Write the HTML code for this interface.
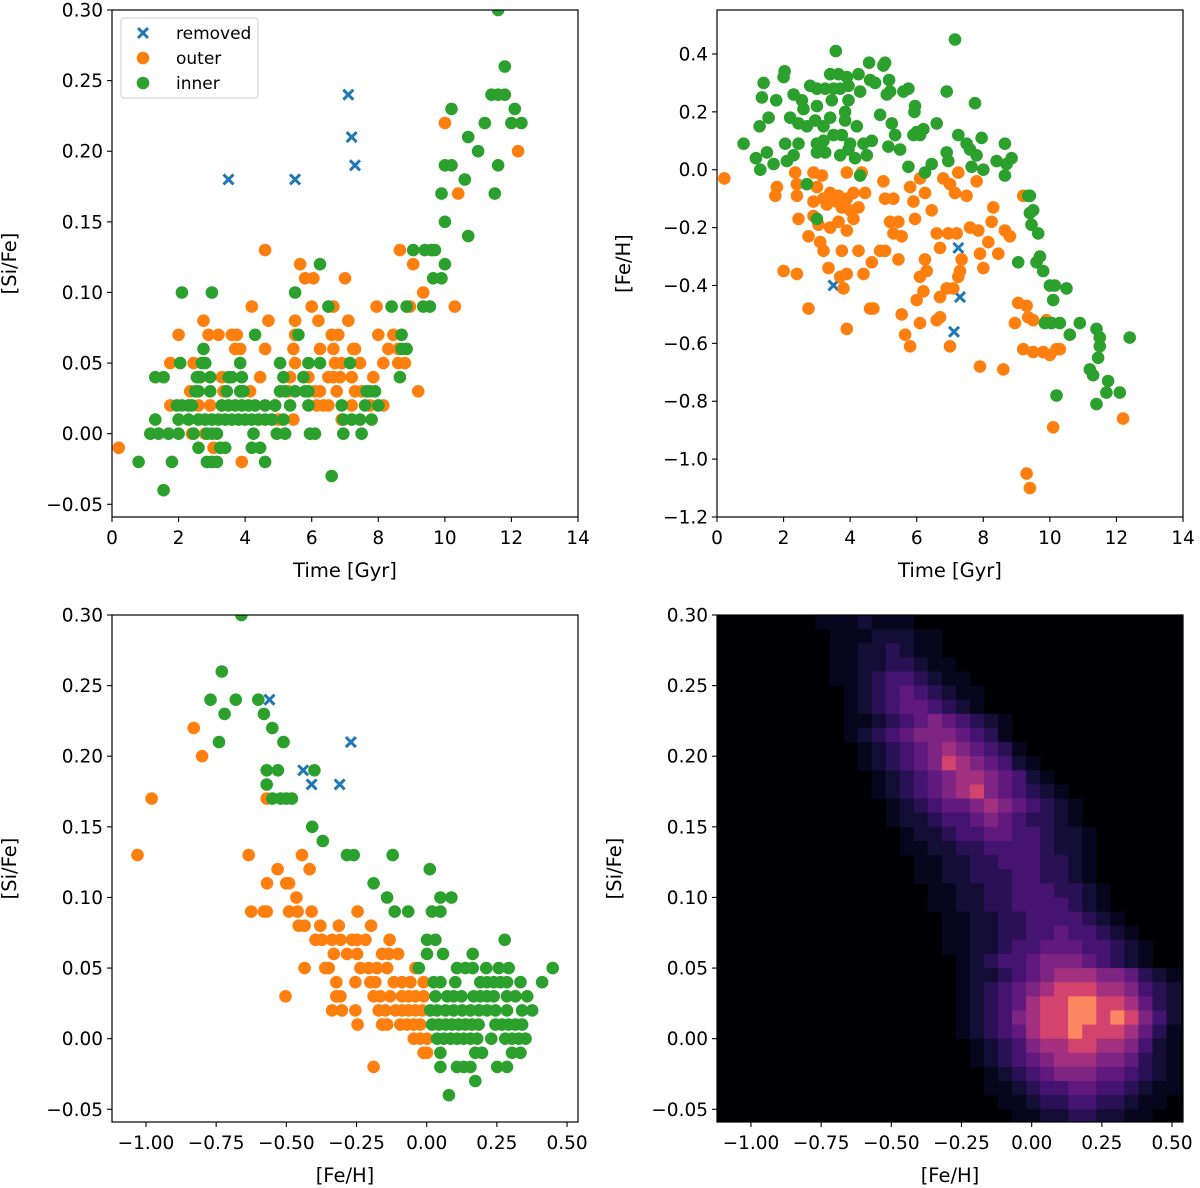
<!DOCTYPE html>
<html><head><meta charset="utf-8"><style>
html,body{margin:0;padding:0;background:#fff;}
svg{display:block;font-family:"DejaVu Sans","Liberation Sans",sans-serif;}
</style></head><body>
<svg id="fig" width="1200" height="1188" viewBox="0 0 1200 1188" xmlns="http://www.w3.org/2000/svg"></svg>
<script>
// ---------- Panel 1: Time vs [Si/Fe] ----------
const p1Removed = [[3.5,0.18],[5.5,0.18],[7.1,0.24],[7.2,0.21],[7.3,0.19]];
const p1Outer = [[4.6,0.13],[8.65,0.13],[5.65,0.12],[9.05,0.12],[5.8,0.11],[6.05,0.11],[7.0,0.11],[9.35,0.10],
[4.2,0.09],[6.0,0.09],[6.65,0.09],[7.95,0.09],[8.95,0.09],[2.75,0.08],[4.7,0.08],[5.5,0.08],[6.2,0.08],[7.1,0.08],
[2.0,0.07],[2.9,0.07],[3.2,0.07],[3.6,0.07],[3.75,0.07],[5.5,0.07],[6.6,0.07],[6.8,0.07],[8.0,0.07],[8.45,0.07],
[3.7,0.06],[3.85,0.06],[4.6,0.06],[5.45,0.06],[6.25,0.06],[6.65,0.06],[7.25,0.06],[7.3,0.06],[8.3,0.06],[8.6,0.06],
[1.75,0.05],[2.45,0.05],[5.5,0.05],[6.7,0.05],[6.9,0.05],[7.45,0.05],[8.15,0.05],[8.6,0.05],[8.8,0.05],
[3.3,0.04],[4.45,0.04],[5.35,0.04],[5.9,0.04],[6.5,0.04],[6.65,0.04],[6.85,0.04],[7.2,0.04],[7.85,0.04],
[2.35,0.03],[3.35,0.03],[4.15,0.03],[5.3,0.03],[6.1,0.03],[6.25,0.03],[6.75,0.03],[7.3,0.03],[7.5,0.03],[9.2,0.03],
[1.75,0.02],[2.6,0.02],[2.95,0.02],[4.9,0.02],[6.15,0.02],[6.35,0.02],[6.5,0.02],[7.2,0.02],[7.75,0.02],[8.15,0.02],
[5.0,0.01],[5.45,0.01],[6.9,0.01],[2.4,0.00],[2.8,0.00],[0.2,-0.01],[3.05,-0.01],[3.9,-0.02],
[10.0,0.22],[12.2,0.20],[10.4,0.17],[10.3,0.09]];
const p1Inner = [[9.05,0.13],[9.4,0.13],[9.7,0.13],[6.25,0.12],[9.65,0.11],[2.1,0.10],[3.0,0.10],[5.5,0.10],
[6.5,0.09],[8.4,0.09],[8.85,0.09],[9.35,0.09],[9.55,0.09],[4.3,0.07],[5.6,0.07],[8.7,0.07],[2.75,0.06],[8.7,0.06],[8.85,0.06],
[2.05,0.05],[2.7,0.05],[2.8,0.05],[3.85,0.05],[5.05,0.05],[5.9,0.05],[6.25,0.05],[7.15,0.05],
[1.3,0.04],[1.55,0.04],[2.55,0.04],[2.65,0.04],[2.95,0.04],[3.5,0.04],[3.6,0.04],[3.9,0.04],[5.15,0.04],[5.75,0.04],[8.65,0.04],
[2.5,0.03],[2.6,0.03],[2.95,0.03],[3.45,0.03],[3.85,0.03],[3.95,0.03],[5.05,0.03],[5.2,0.03],[5.5,0.03],[5.8,0.03],[5.9,0.03],[7.65,0.03],[7.75,0.03],[7.9,0.03],
[1.95,0.02],[2.1,0.02],[2.3,0.02],[2.4,0.02],[3.3,0.02],[3.5,0.02],[3.7,0.02],[3.9,0.02],[4.1,0.02],[4.3,0.02],[4.6,0.02],[4.9,0.02],[5.35,0.02],[5.9,0.02],[6.9,0.02],[7.6,0.02],[8.0,0.02],
[1.3,0.01],[2.0,0.01],[2.3,0.01],[2.6,0.01],[2.8,0.01],[3.0,0.01],[3.2,0.01],[3.4,0.01],[3.6,0.01],[3.8,0.01],[4.0,0.01],[4.2,0.01],[4.4,0.01],[4.6,0.01],[4.8,0.01],[5.15,0.01],[6.95,0.01],[7.2,0.01],[7.45,0.01],[7.8,0.01],
[1.15,0.00],[1.4,0.00],[1.7,0.00],[2.0,0.00],[2.45,0.00],[2.85,0.00],[3.0,0.00],[3.15,0.00],[4.25,0.00],[4.95,0.00],[5.2,0.00],[5.95,0.00],[6.1,0.00],[6.95,0.00],[7.5,0.00],
[2.6,-0.01],[3.25,-0.01],[3.4,-0.01],[4.2,-0.01],[4.45,-0.01],[0.8,-0.02],[1.8,-0.02],[2.85,-0.02],[3.0,-0.02],[3.15,-0.02],[4.6,-0.02],[6.6,-0.03],[1.55,-0.04],
[11.6,0.30],[11.8,0.26],[11.4,0.24],[11.6,0.24],[11.8,0.24],[12.1,0.23],[10.2,0.23],[11.2,0.22],[12.3,0.22],[12.0,0.22],[10.7,0.21],[11.0,0.20],
[10.2,0.19],[10.0,0.19],[11.6,0.19],[10.6,0.18],[9.9,0.17],[11.5,0.17],[10.0,0.15],[10.7,0.14],[9.6,0.13],[9.9,0.11],[10.0,0.12]];

// ---------- Panel 2: Time vs [Fe/H] ----------
const p2Removed = [[7.25,-0.27],[7.3,-0.44],[7.12,-0.56],[3.5,-0.40]];
const p2Outer = [[0.22,-0.03],[2.35,-0.01],[2.9,-0.01],[3.15,-0.02],[3.9,-0.01],[4.35,-0.01],[1.8,-0.06],[1.75,-0.09],[2.4,-0.05],[2.4,-0.09],[3.0,-0.06],[3.4,-0.08],[3.65,-0.09],[3.9,-0.10],[4.1,-0.08],[4.45,-0.08],[5.0,-0.04],[5.05,-0.10],[5.3,-0.10],[5.8,-0.06],[6.1,-0.03],[6.25,-0.08],[6.8,-0.03],[7.0,-0.05],[7.25,-0.01],[7.15,-0.08],[7.5,-0.09],[7.8,-0.04],[2.45,-0.17],[2.9,-0.11],[2.9,-0.16],[3.2,-0.10],[3.3,-0.12],[3.6,-0.11],[3.75,-0.13],[4.0,-0.14],[4.25,-0.13],[5.9,-0.11],[6.45,-0.14],[8.3,-0.13],[9.2,-0.09],[3.05,-0.19],[3.4,-0.20],[3.65,-0.18],[3.9,-0.21],[4.1,-0.17],[5.2,-0.18],[5.45,-0.18],[5.3,-0.22],[5.55,-0.23],[5.95,-0.17],[7.6,-0.20],[7.85,-0.21],[8.25,-0.18],[6.6,-0.22],[6.95,-0.22],[7.2,-0.22],[8.65,-0.21],[8.8,-0.23],[2.75,-0.23],[3.1,-0.25],[3.2,-0.28],[3.75,-0.28],[4.25,-0.28],[4.65,-0.32],[4.9,-0.28],[5.05,-0.28],[5.45,-0.31],[6.7,-0.27],[7.35,-0.31],[7.9,-0.29],[8.15,-0.25],[8.45,-0.29],[2.0,-0.35],[2.4,-0.36],[3.35,-0.34],[3.7,-0.37],[3.9,-0.36],[4.4,-0.36],[6.25,-0.31],[6.3,-0.35],[6.1,-0.37],[7.3,-0.35],[7.25,-0.37],[8.0,-0.34],[3.8,-0.41],[6.2,-0.42],[6.9,-0.41],[7.1,-0.41],[6.7,-0.44],[6.0,-0.45],[2.75,-0.48],[4.6,-0.48],[4.7,-0.48],[5.55,-0.50],[9.05,-0.46],[8.95,-0.53],[9.35,-0.51],[3.9,-0.55],[6.1,-0.53],[6.6,-0.52],[6.7,-0.51],[5.65,-0.57],[5.8,-0.61],[7.0,-0.61],[9.5,-0.63],
[9.3,-0.47],[9.5,-0.52],[9.9,-0.52],[9.8,-0.63],[10.0,-0.64],[9.2,-0.62],[10.2,-0.62],[10.3,-0.62],[10.1,-0.89],[9.3,-1.05],[9.4,-1.10],[12.2,-0.86],[7.9,-0.68],[8.6,-0.69]];
const p2Inner = [[7.15,0.45],[3.57,0.41],[4.57,0.37],[5.0,0.36],[5.05,0.37],[2.03,0.34],[2.0,0.32],[1.4,0.30],[3.4,0.33],[3.65,0.33],[3.9,0.32],[4.25,0.33],[4.6,0.31],[4.75,0.30],[5.17,0.31],[1.35,0.25],[1.78,0.24],[2.3,0.26],[2.55,0.24],[2.8,0.29],[3.0,0.28],[3.25,0.28],[3.5,0.28],[3.7,0.28],[3.95,0.29],[4.3,0.27],[5.1,0.26],[5.2,0.27],[5.6,0.27],[5.75,0.28],[6.9,0.27],[7.75,0.23],[2.6,0.21],[3.0,0.22],[3.45,0.24],[3.95,0.24],[3.85,0.20],[4.9,0.19],[5.95,0.22],[5.93,0.20],[1.55,0.18],[2.2,0.18],[1.28,0.15],[2.45,0.16],[2.7,0.15],[2.95,0.17],[3.2,0.15],[3.4,0.18],[3.85,0.17],[4.2,0.15],[5.25,0.16],[5.35,0.12],[6.0,0.13],[6.2,0.14],[6.6,0.16],[0.8,0.09],[1.5,0.06],[2.05,0.09],[2.45,0.09],[3.0,0.09],[3.2,0.10],[3.5,0.12],[3.75,0.12],[4.0,0.09],[4.4,0.09],[4.65,0.10],[5.15,0.08],[5.5,0.07],[5.9,0.12],[6.1,0.12],[7.25,0.12],[7.5,0.09],[7.6,0.07],[7.95,0.11],[8.65,0.09],[1.17,0.04],[1.7,0.02],[2.1,0.03],[2.3,0.05],[3.0,0.06],[3.25,0.06],[3.7,0.05],[3.95,0.07],[4.15,0.04],[4.5,0.05],[6.9,0.06],[6.95,0.03],[7.8,0.05],[8.4,0.03],[8.85,0.04],[1.3,0.00],[5.75,0.01],[6.45,0.02],[7.65,0.01],[8.0,0.00],[8.7,0.02],[8.65,-0.02],[6.25,-0.01],[4.3,-0.02],[2.7,-0.05],[3.0,-0.17],[9.35,-0.09],[9.4,-0.15],[9.5,-0.14],[9.65,-0.22],[9.7,-0.30],[9.05,-0.32],[10.15,-0.40],[10.1,-0.45],[9.85,-0.53],[10.05,-0.53],
[9.4,-0.09],[9.45,-0.19],[9.6,-0.32],[9.8,-0.35],[10.0,-0.40],[10.5,-0.41],[10.3,-0.53],[10.6,-0.57],[10.9,-0.53],[11.4,-0.55],[11.5,-0.58],[11.5,-0.61],[11.45,-0.65],[12.4,-0.58],[11.2,-0.69],[11.3,-0.71],[11.75,-0.73],[11.7,-0.77],[12.1,-0.77],[11.4,-0.81],[10.2,-0.78]];

// ---------- Panel 3: [Fe/H] vs [Si/Fe] ----------
const p3Removed = [[-0.56,0.24],[-0.27,0.21],[-0.44,0.19],[-0.41,0.18],[-0.31,0.18]];
const p3Outer = [[-0.83,0.22],[-0.80,0.20],[-0.98,0.17],[-0.57,0.17],[-1.03,0.13],[-0.634,0.13],[-0.444,0.13],[-0.531,0.12],[-0.417,0.12],[-0.569,0.11],[-0.50,0.11],[-0.49,0.11],[-0.464,0.10],
[-0.625,0.09],[-0.58,0.09],[-0.57,0.09],[-0.49,0.09],[-0.46,0.09],[-0.41,0.09],[-0.246,0.09],[-0.456,0.08],[-0.435,0.08],[-0.379,0.08],[-0.313,0.08],[-0.198,0.08],
[-0.396,0.07],[-0.373,0.07],[-0.337,0.07],[-0.307,0.07],[-0.266,0.07],[-0.248,0.07],[-0.218,0.07],[-0.132,0.07],[-0.331,0.06],[-0.284,0.06],[-0.248,0.06],[-0.159,0.06],[-0.135,0.06],[-0.102,0.06],
[-0.435,0.05],[-0.361,0.05],[-0.349,0.05],[-0.236,0.05],[-0.207,0.05],[-0.177,0.05],[-0.141,0.05],[-0.04,0.05],[-0.322,0.04],[-0.254,0.04],[-0.201,0.04],[-0.183,0.04],[-0.117,0.04],[-0.088,0.04],[-0.058,0.04],[-0.011,0.04],
[-0.503,0.03],[-0.322,0.03],[-0.307,0.03],[-0.189,0.03],[-0.165,0.03],[-0.13,0.03],[-0.088,0.03],[-0.064,0.03],[-0.04,0.03],[-0.011,0.03],
[-0.337,0.02],[-0.302,0.02],[-0.254,0.02],[-0.171,0.02],[-0.147,0.02],[-0.111,0.02],[-0.088,0.02],[-0.064,0.02],[-0.04,0.02],[-0.016,0.02],
[-0.246,0.01],[-0.159,0.01],[-0.141,0.01],[-0.094,0.01],[-0.07,0.01],[-0.046,0.01],[-0.023,0.01],[-0.046,0.00],[-0.023,0.00],[0.001,0.00],[-0.011,-0.01],[0.001,-0.01],[-0.189,-0.02]];
const p3Inner = [[-0.66,0.30],[-0.73,0.26],[-0.77,0.24],[-0.68,0.24],[-0.72,0.23],[-0.74,0.21],[-0.60,0.24],[-0.58,0.23],[-0.55,0.22],[-0.51,0.21],[-0.57,0.19],[-0.53,0.19],[-0.57,0.18],[-0.55,0.17],[-0.52,0.17],[-0.40,0.19],[-0.50,0.17],[-0.48,0.17],
[-0.408,0.15],[-0.37,0.14],[-0.284,0.13],[-0.26,0.13],[-0.121,0.13],[0.011,0.12],[-0.189,0.11],[-0.141,0.10],[0.049,0.10],[0.088,0.10],[-0.114,0.09],[-0.066,0.09],[0.019,0.09],[0.049,0.09],
[0.001,0.07],[0.031,0.07],[0.278,0.07],[0.001,0.06],[0.058,0.06],[0.164,0.06],[-0.028,0.05],[0.108,0.05],[0.138,0.05],[0.164,0.05],[0.212,0.05],[0.257,0.05],[0.292,0.05],[0.449,0.05],
[0.025,0.04],[0.049,0.04],[0.102,0.04],[0.191,0.04],[0.215,0.04],[0.239,0.04],[0.263,0.04],[0.286,0.04],[0.334,0.04],[0.411,0.04],
[0.031,0.03],[0.073,0.03],[0.096,0.03],[0.124,0.03],[0.167,0.03],[0.191,0.03],[0.215,0.03],[0.239,0.03],[0.286,0.03],[0.316,0.03],[0.358,0.03],
[0.013,0.02],[0.037,0.02],[0.067,0.02],[0.096,0.02],[0.126,0.02],[0.156,0.02],[0.186,0.02],[0.215,0.02],[0.245,0.02],[0.286,0.02],[0.34,0.02],[0.376,0.02],
[0.019,0.01],[0.043,0.01],[0.067,0.01],[0.09,0.01],[0.114,0.01],[0.138,0.01],[0.161,0.01],[0.185,0.01],[0.245,0.01],[0.269,0.01],[0.292,0.01],[0.316,0.01],[0.34,0.01],
[0.037,0.00],[0.061,0.00],[0.085,0.00],[0.108,0.00],[0.132,0.00],[0.156,0.00],[0.18,0.00],[0.23,0.00],[0.28,0.00],[0.304,0.00],[0.328,0.00],[0.352,0.00],
[0.049,-0.01],[0.173,-0.01],[0.197,-0.01],[0.304,-0.01],[0.334,-0.01],[0.049,-0.02],[0.108,-0.02],[0.132,-0.02],[0.156,-0.02],[0.251,-0.02],[0.286,-0.02],[0.173,-0.03],[0.079,-0.04]];

// ---------- Panel 4: 2D histogram counts (0-9) ----------
const heatXStart = -1.12, heatXBin = 0.05, heatYTop = 0.30, heatYBin = 0.01;
const heatRows = [
"000000011121110000000000000000000",
"000000001112221100000000000000000",
"000000001122321100000000000000000",
"000000001122332110000000000000000",
"000000001123443211000000000000000",
"000000000123454321100000000000000",
"000000000123455432100000000000000",
"000000000112345654321000000000000",
"000000000123456665431000000000000",
"000000000012345676543100000000000",
"000000000012345687654210000000000",
"000000000001234567765421000000000",
"000000000001234567865432100000000",
"000000000000123455676543210000000",
"000000000000122344565433210000000",
"000000000000012234455443221000000",
"000000000000011223344443221000000",
"000000000000001122334443321000000",
"000000000000001122333443321000000",
"000000000000000112233444332100000",
"000000000000000112233444432100000",
"000000000000000011223344443210000",
"000000000000000011223344544321000",
"000000000000000011223445554432100",
"000000000000000001234456665432100",
"000000000000000001223456777665321",
"000000000000000001234567888776432",
"000000000000000001234578899887532",
"000000000000000001234678899898642",
"000000000000000001234578898887531",
"000000000000000000123467788776421",
"000000000000000000123456777665321",
"000000000000000000012345666554321",
"000000000000000000011234455443211",
"000000000000000000001123344332110",
"000000000000000000000112233221100"];
const magma = ["#000004","#07061c","#140e36","#2a1155","#451470","#61197d","#7e2482","#a3307e","#d3436e","#fb8861"];

const xTicks1 = [0,2,4,6,8,10,12,14];
const yTicks1 = [-0.05,0,0.05,0.10,0.15,0.20,0.25,0.30];
const yTicks1Labels = ["\u22120.05","0.00","0.05","0.10","0.15","0.20","0.25","0.30"];
const yTicks2 = [0.4,0.2,0,-0.2,-0.4,-0.6,-0.8,-1.0,-1.2];
const yTicks2Labels = ["0.4","0.2","0.0","\u22120.2","\u22120.4","\u22120.6","\u22120.8","\u22121.0","\u22121.2"];
const xTicks3 = [-1.0,-0.75,-0.5,-0.25,0,0.25,0.5];
const xTicks3Labels = ["\u22121.00","\u22120.75","\u22120.50","\u22120.25","0.00","0.25","0.50"];

const NS = "http://www.w3.org/2000/svg";
const svg = document.getElementById('fig');
function mk(tag, attrs, parent){ const e=document.createElementNS(NS,tag); for(const k in attrs) e.setAttribute(k,attrs[k]); (parent||svg).appendChild(e); return e; }

const C_BLUE="#1f77b4", C_OR="#ff7f0e", C_GR="#2ca02c";
function makePanel(name, box, xr, yr){
  const g = mk('g',{});
  
  
  const sx = v => box.x0 + (v-xr[0])/(xr[1]-xr[0])*(box.x1-box.x0);
  const sy = v => box.y1 - (v-yr[0])/(yr[1]-yr[0])*(box.y1-box.y0);
  const cid = 'clip-'+name;
  const cp = mk('clipPath',{id:cid},g);
  mk('rect',{x:box.x0,y:box.y0,width:box.x1-box.x0,height:box.y1-box.y0},cp);
  const plot = mk('g',{'clip-path':'url(#'+cid+')'},g);
  
  
  return {g, sx, sy, box, plot};
}
function scatter(P, pts, color, nm){
  const grp = mk('g',{},P.plot);
  
  
  pts.forEach(p=>{
    const c = mk('circle',{cx:P.sx(p[0]).toFixed(1),cy:P.sy(p[1]).toFixed(1),r:6.3,fill:color},grp);
    
    
  });
}
function crosses(P, pts, nm){
  const grp = mk('g',{stroke:C_BLUE,'stroke-width':3,'stroke-linecap':'butt'},P.plot);
  
  
  pts.forEach(p=>{
    const x=P.sx(p[0]), y=P.sy(p[1]), d=5;
    const pa = mk('path',{d:`M${x-d},${y-d}L${x+d},${y+d}M${x-d},${y+d}L${x+d},${y-d}`},grp);
    
    
  });
}
function axes(P, xt, xl, yt, yl, xlabel, ylabel, ylabX){
  const b=P.box;
  const fr = mk('rect',{x:b.x0,y:b.y0,width:b.x1-b.x0,height:b.y1-b.y0,fill:'none',stroke:'#000','stroke-width':1.2},P.g);
  
  
  const xa = mk('g',{},P.g);
  
  
  xt.forEach((v,i)=>{
    const x=P.sx(v);
    mk('line',{x1:x,x2:x,y1:b.y1,y2:b.y1+5,stroke:'#000','stroke-width':1.1},xa);
    const t=mk('text',{x:x,y:b.y1+27,'text-anchor':'middle','font-size':18.5,fill:'#000'},xa);
    t.textContent=xl[i];
    
    
  });
  const xlab=mk('text',{x:(b.x0+b.x1)/2,y:b.y1+60,'text-anchor':'middle','font-size':19.5},xa);
  xlab.textContent=xlabel;
  
  
  const ya = mk('g',{},P.g);
  
  
  yt.forEach((v,i)=>{
    const y=P.sy(v);
    mk('line',{x1:b.x0-5,x2:b.x0,y1:y,y2:y,stroke:'#000','stroke-width':1.1},ya);
    const t=mk('text',{x:b.x0-9,y:y+6.5,'text-anchor':'end','font-size':18.5},ya);
    t.textContent=yl[i];
    
    
  });
  const cy=(b.y0+b.y1)/2;
  const ylab=mk('text',{x:ylabX,y:cy,'text-anchor':'middle','font-size':19.5,transform:`rotate(-90 ${ylabX} ${cy})`},ya);
  ylab.textContent=ylabel;
  
  
}

const xl1 = xTicks1.map(String);
const P1 = makePanel('panel-time-sife',{x0:112,x1:578,y0:10,y1:517},[0,14],[-0.059,0.30]);
crosses(P1,p1Removed,'removed-series');
scatter(P1,p1Outer,C_OR,'outer-series');
scatter(P1,p1Inner,C_GR,'inner-series');
axes(P1,xTicks1,xl1,yTicks1,yTicks1Labels,'Time [Gyr]','[Si/Fe]',16);
const lg = mk('g',{},P1.g);


mk('rect',{x:121,y:18,width:137,height:80,rx:3,fill:'#fff','fill-opacity':0.8,stroke:'#ccc','stroke-width':1},lg);
[['removed',33],['outer',58],['inner',83]].forEach(([lab,y],i)=>{
  const e=mk('g',{},lg);
  
  
  if(i===0){ mk('path',{d:`M138,${y-5}L148,${y+5}M138,${y+5}L148,${y-5}`,stroke:C_BLUE,'stroke-width':3},e); }
  else mk('circle',{cx:143,cy:y,r:6.3,fill:i===1?C_OR:C_GR},e);
  const t=mk('text',{x:176,y:y+6,'font-size':17},e); t.textContent=lab;
});
const P2 = makePanel('panel-time-feh',{x0:717,x1:1183,y0:10,y1:517},[0,14],[-1.2,0.552]);
crosses(P2,p2Removed,'removed-series');
scatter(P2,p2Outer,C_OR,'outer-series');
scatter(P2,p2Inner,C_GR,'inner-series');
axes(P2,xTicks1,xl1,yTicks2,yTicks2Labels,'Time [Gyr]','[Fe/H]',630);
const P3 = makePanel('panel-feh-sife',{x0:112,x1:578,y0:615,y1:1122},[-1.121,0.539],[-0.059,0.30]);
scatter(P3,p3Outer,C_OR,'outer-series');
scatter(P3,p3Inner,C_GR,'inner-series');
crosses(P3,p3Removed,'removed-series');
axes(P3,xTicks3,xTicks3Labels,yTicks1,yTicks1Labels,'[Fe/H]','[Si/Fe]',16);
const P4 = makePanel('panel-heatmap',{x0:717,x1:1183,y0:615,y1:1122},[-1.121,0.539],[-0.059,0.30]);
mk('rect',{x:717,y:615,width:466,height:507,fill:magma[0]},P4.plot);
const hm = mk('g',{},P4.plot);


heatRows.forEach((row,r)=>{
  const yTop = heatYTop - r*heatYBin, yBot = yTop - heatYBin;
  for(let c=0;c<row.length;c++){
    const v = +row[c]; if(!v) continue;
    const xa = heatXStart + c*heatXBin, xb = xa + heatXBin;
    const x0=P4.sx(xa), x1=P4.sx(xb), y0=P4.sy(yTop), y1=P4.sy(yBot);
    const cell = mk('rect',{x:x0.toFixed(1),y:y0.toFixed(1),width:(x1-x0+0.5).toFixed(1),height:(y1-y0+0.5).toFixed(1),fill:magma[v]},hm);
    
    
  }
});
axes(P4,xTicks3,xTicks3Labels,yTicks1,yTicks1Labels,'[Fe/H]','[Si/Fe]',621);
</script>
</body></html>
